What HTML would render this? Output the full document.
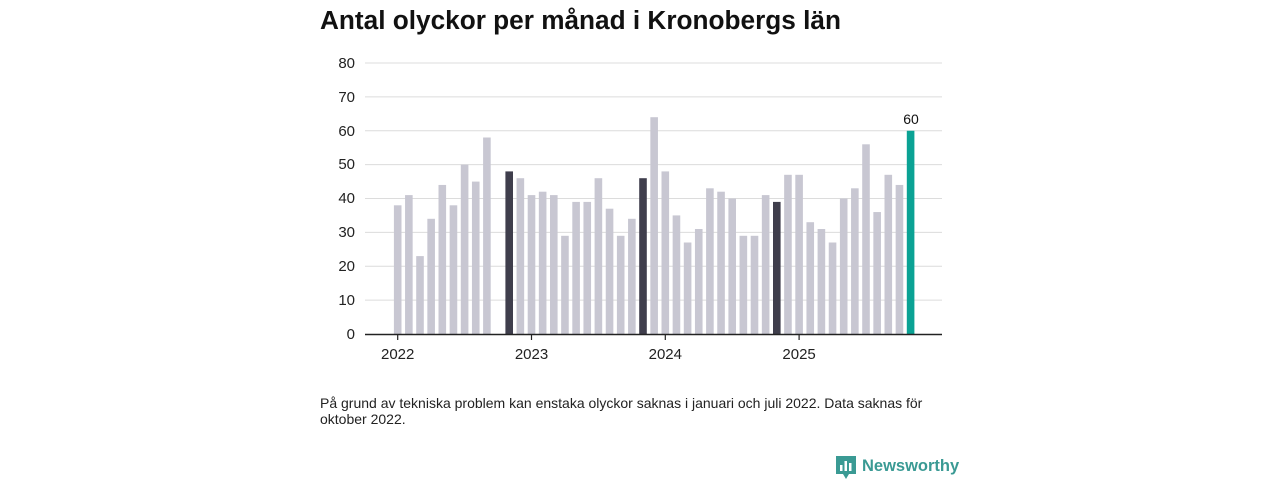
<!DOCTYPE html>
<html><head><meta charset="utf-8"><style>
body{margin:0;background:#fff;width:1280px;height:480px;overflow:hidden;font-family:"Liberation Sans",sans-serif;}
</style></head><body>
<svg width="1280" height="480" xmlns="http://www.w3.org/2000/svg" font-family="Liberation Sans, sans-serif">
<text x="320" y="29" font-size="26.2" font-weight="bold" fill="#111">Antal olyckor per månad i Kronobergs län</text>
<g stroke="#dcdcdc" stroke-width="1">
<line x1="365" x2="942" y1="300.1" y2="300.1"/><line x1="365" x2="942" y1="266.25" y2="266.25"/>
<line x1="365" x2="942" y1="232.4" y2="232.4"/><line x1="365" x2="942" y1="198.5" y2="198.5"/>
<line x1="365" x2="942" y1="164.6" y2="164.6"/><line x1="365" x2="942" y1="130.75" y2="130.75"/>
<line x1="365" x2="942" y1="96.9" y2="96.9"/><line x1="365" x2="942" y1="63" y2="63"/>
</g>
<g font-size="15" text-anchor="end" fill="#222">
<text x="355" y="339">0</text><text x="355" y="305">10</text><text x="355" y="271">20</text><text x="355" y="237">30</text>
<text x="355" y="203">40</text><text x="355" y="169">50</text><text x="355" y="136">60</text><text x="355" y="102">70</text><text x="355" y="68">80</text>
</g>
<g fill="#c8c7d2">
<rect x="393.9" y="205.3" width="7.6" height="128.7"/>
<rect x="405.05" y="195.1" width="7.6" height="138.9"/>
<rect x="416.2" y="256.1" width="7.6" height="77.9"/>
<rect x="427.35" y="218.8" width="7.6" height="115.2"/>
<rect x="438.5" y="184.95" width="7.6" height="149.05"/>
<rect x="449.65" y="205.3" width="7.6" height="128.7"/>
<rect x="460.8" y="164.6" width="7.6" height="169.4"/>
<rect x="471.95" y="181.6" width="7.6" height="152.4"/>
<rect x="483.1" y="137.5" width="7.6" height="196.5"/>
<rect x="516.55" y="178.2" width="7.6" height="155.8"/>
<rect x="527.7" y="195.1" width="7.6" height="138.9"/>
<rect x="538.85" y="191.7" width="7.6" height="142.3"/>
<rect x="550" y="195.1" width="7.6" height="138.9"/>
<rect x="561.15" y="235.8" width="7.6" height="98.2"/>
<rect x="572.3" y="201.9" width="7.6" height="132.1"/>
<rect x="583.45" y="201.9" width="7.6" height="132.1"/>
<rect x="594.6" y="178.2" width="7.6" height="155.8"/>
<rect x="605.75" y="208.7" width="7.6" height="125.3"/>
<rect x="616.9" y="235.8" width="7.6" height="98.2"/>
<rect x="628.05" y="218.8" width="7.6" height="115.2"/>
<rect x="650.35" y="117.2" width="7.6" height="216.8"/>
<rect x="661.5" y="171.4" width="7.6" height="162.6"/>
<rect x="672.65" y="215.4" width="7.6" height="118.6"/>
<rect x="683.8" y="242.5" width="7.6" height="91.5"/>
<rect x="694.95" y="229" width="7.6" height="105"/>
<rect x="706.1" y="188.3" width="7.6" height="145.7"/>
<rect x="717.25" y="191.7" width="7.6" height="142.3"/>
<rect x="728.4" y="198.5" width="7.6" height="135.5"/>
<rect x="739.55" y="235.8" width="7.6" height="98.2"/>
<rect x="750.7" y="235.8" width="7.6" height="98.2"/>
<rect x="761.85" y="195.1" width="7.6" height="138.9"/>
<rect x="784.15" y="174.8" width="7.6" height="159.2"/>
<rect x="795.3" y="174.8" width="7.6" height="159.2"/>
<rect x="806.45" y="222.2" width="7.6" height="111.8"/>
<rect x="817.6" y="229" width="7.6" height="105"/>
<rect x="828.75" y="242.5" width="7.6" height="91.5"/>
<rect x="839.9" y="198.5" width="7.6" height="135.5"/>
<rect x="851.05" y="188.3" width="7.6" height="145.7"/>
<rect x="862.2" y="144.3" width="7.6" height="189.7"/>
<rect x="873.35" y="212.05" width="7.6" height="121.95"/>
<rect x="884.5" y="174.8" width="7.6" height="159.2"/>
<rect x="895.65" y="184.95" width="7.6" height="149.05"/>
</g>
<g fill="#3f3e4c">
<rect x="505.4" y="171.4" width="7.6" height="162.6"/>
<rect x="639.2" y="178.2" width="7.6" height="155.8"/>
<rect x="773" y="201.9" width="7.6" height="132.1"/>
</g>
<rect x="906.8" y="130.75" width="7.6" height="203.25" fill="#0aa294"/>
<text x="911" y="124" font-size="14" text-anchor="middle" fill="#111">60</text>
<line x1="365" x2="942" y1="334.5" y2="334.5" stroke="#222" stroke-width="1.5"/>
<g stroke="#222" stroke-width="1.2">
<line x1="397.7" x2="397.7" y1="334" y2="340"/><line x1="531.5" x2="531.5" y1="334" y2="340"/>
<line x1="665.3" x2="665.3" y1="334" y2="340"/><line x1="799.1" x2="799.1" y1="334" y2="340"/>
</g>
<g font-size="15" text-anchor="middle" fill="#222">
<text x="397.7" y="359">2022</text><text x="531.5" y="359">2023</text><text x="665.3" y="359">2024</text><text x="799.1" y="359">2025</text>
</g>
<text x="320" y="408" font-size="14" fill="#222">På grund av tekniska problem kan enstaka olyckor saknas i januari och juli 2022. Data saknas för</text>
<text x="320" y="424" font-size="14" fill="#222">oktober 2022.</text>
<g transform="translate(836,456)">
<path d="M0 0h20v18h-7l-3 5-3-5H0z" fill="#3a9a94"/>
<rect x="4" y="9" width="2.5" height="6" fill="#fff"/><rect x="8.5" y="5" width="2.5" height="10" fill="#fff"/><rect x="13" y="7" width="2.5" height="8" fill="#fff"/>
</g>
<text x="862" y="471" font-size="16.5" font-weight="bold" fill="#3a9a94">Newsworthy</text>
</svg>
</body></html>
